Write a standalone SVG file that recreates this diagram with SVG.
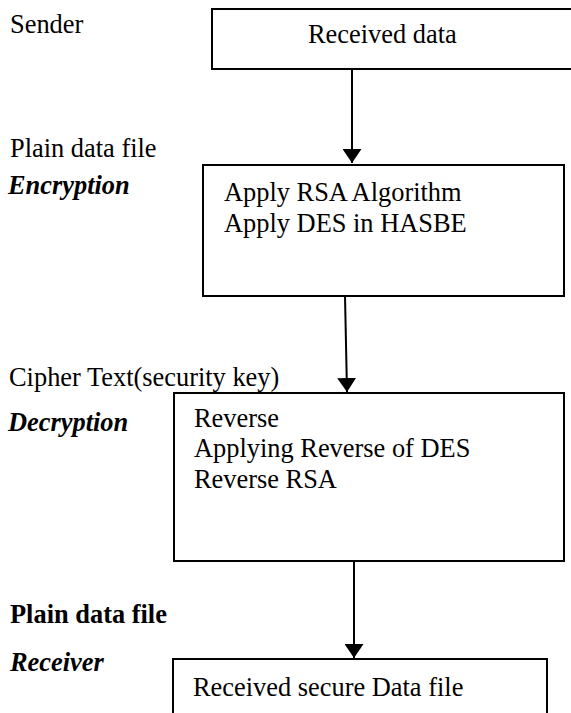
<svg xmlns="http://www.w3.org/2000/svg" width="571" height="713" viewBox="0 0 571 713">
<style>
text{font-family:"Liberation Serif","Times New Roman",serif;font-size:26.4px;fill:#000}
.bi{font-weight:bold;font-style:italic}
.b{font-weight:bold}
.box{fill:#fff;stroke:#000;stroke-width:2}
.conn{stroke:#000;stroke-width:2;fill:none}
</style>
<defs>
<marker id="ah" markerUnits="userSpaceOnUse" markerWidth="14" markerHeight="19" refX="14" refY="9.5" orient="auto" viewBox="0 0 14 19">
<path d="M0,0 L14,9.5 L0,19 Z" fill="#000"/>
</marker>
</defs>
<rect width="571" height="713" fill="#fff"/>
<g id="labels">
<text x="10" y="33">Sender</text>
<text x="10" y="157">Plain data file</text>
<text x="8" y="194" class="bi">Encryption</text>
<text x="9" y="386">Cipher Text(security key)</text>
<text x="8" y="431" class="bi">Decryption</text>
<text x="10" y="623" class="b">Plain data file</text>
<text x="10" y="671" class="bi">Receiver</text>
</g>
<g id="connectors">
<line class="conn" x1="352" y1="69" x2="352" y2="163" marker-end="url(#ah)"/>
<line class="conn" x1="345" y1="296" x2="347" y2="392" marker-end="url(#ah)"/>
<line class="conn" x1="354" y1="561" x2="354" y2="658" marker-end="url(#ah)"/>
</g>
<g id="node-received">
<rect class="box" x="212" y="9" width="370" height="60"/>
<text x="308" y="43">Received data</text>
</g>
<g id="node-encryption">
<rect class="box" x="203" y="165" width="361" height="131"/>
<text x="224" y="201">Apply RSA Algorithm</text>
<text x="224" y="232">Apply DES in HASBE</text>
</g>
<g id="node-decryption">
<rect class="box" x="174" y="393" width="390" height="168"/>
<text x="194" y="427">Reverse</text>
<text x="194" y="457">Applying Reverse of DES</text>
<text x="194" y="488">Reverse RSA</text>
</g>
<g id="node-receiver">
<rect class="box" x="173" y="659" width="374" height="70"/>
<text x="193" y="696">Received secure Data file</text>
</g>
</svg>
